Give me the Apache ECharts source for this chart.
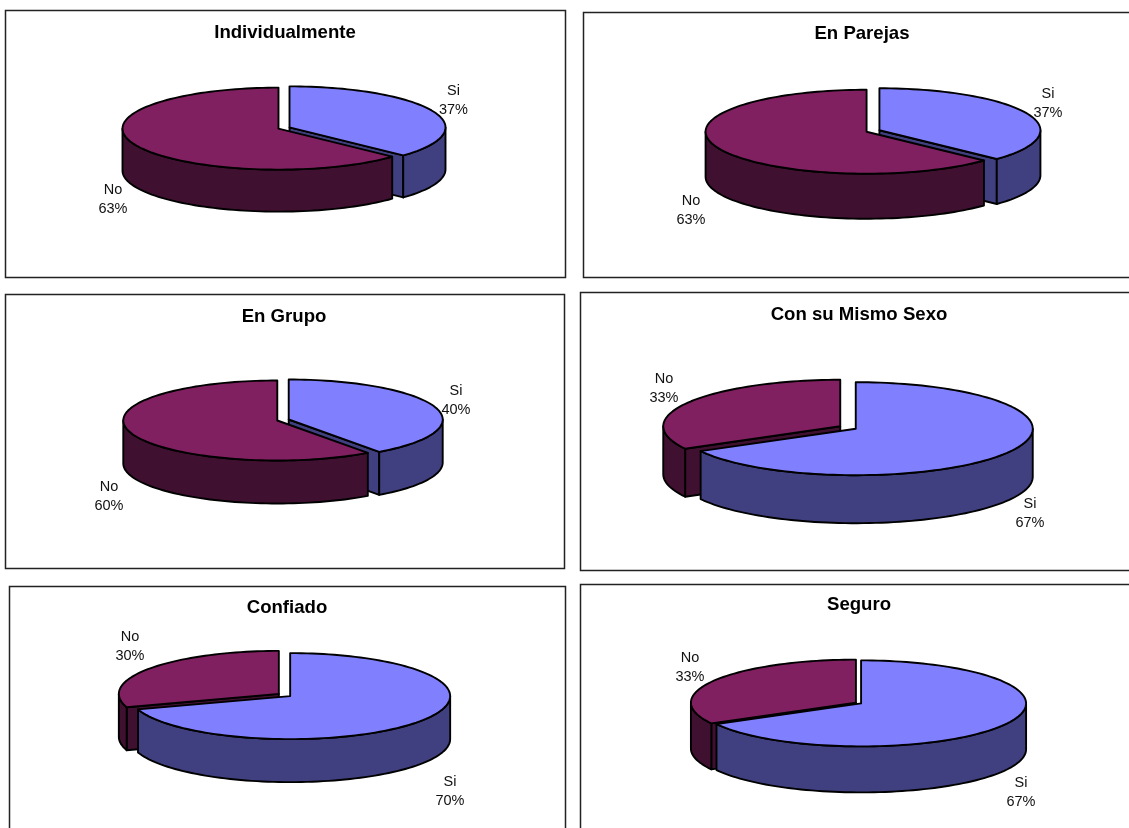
<!DOCTYPE html>
<html>
<head>
<meta charset="utf-8">
<style>html,body{margin:0;padding:0;background:#fff}#c{width:1129px;height:828px}</style>
<script src="https://cdn.jsdelivr.net/npm/echarts@6/dist/echarts.min.js"></script>
</head>
<body>
<div id="c"></div>
<script>
const categories = ['Si', 'No'];
const chartTitles = ['Individualmente', 'En Parejas', 'En Grupo', 'Con su Mismo Sexo', 'Confiado', 'Seguro'];
const siValues = [37, 37, 40, 67, 70, 67];
const noValues = [63, 63, 60, 33, 30, 33];

// panel layout only: frame, title anchor, pie ellipse, label anchors
const layouts = [
  {frame:[5,10,560,267],   title:[285,33],  c:[284,128],   rx:156, ry:41, d:42, e:6, si:[453.5,100],no:[113,199]},
  {frame:[583,12,600,265], title:[862,34],  c:[873,131],   rx:161, ry:42, d:45, e:7, si:[1048,103], no:[691,210]},
  {frame:[5,294,559,274],  title:[284,317], c:[283,420],   rx:154, ry:40, d:43, e:6, si:[456,400],  no:[109,496]},
  {frame:[580,292,600,278],title:[859,315], c:[848,427.5], rx:177, ry:46.5, d:48, e:9, si:[1030,513], no:[664,388.5]},
  {frame:[9,586,556,300],  title:[287,608], c:[284.5,695], rx:160, ry:43, d:43, e:7, si:[450,791],  no:[130,646]},
  {frame:[580,584,600,300],title:[859,605], c:[858.5,703], rx:165, ry:43, d:46, e:3, si:[1021,792], no:[690,667]}
];
const topColors = {Si:'#8080FF', No:'#802060'};
const wallColors = {Si:'#404080', No:'#401030'};
const edge = {stroke:'#000', lineWidth:1.9, lineJoin:'round'};

function makeRender(idx) {
  const L = layouts[idx];
  return function (params, api) {
    const name = categories[api.value(0)];
    const value = api.value(1);
    const siShare = siValues[idx] / (siValues[idx] + noValues[idx]) * 360;
    const s = name === 'Si' ? 0 : siShare;
    const t = name === 'Si' ? siShare : 360;
    const mid = (s + t) / 2 * Math.PI / 180;
    const ax = L.c[0] + L.e * Math.sin(mid);
    const ay = L.c[1] - L.e * Math.cos(mid) * L.ry / L.rx;
    const pt = (deg, drop) => [
      ax + L.rx * Math.sin(deg * Math.PI / 180),
      ay - L.ry * Math.cos(deg * Math.PI / 180) + (drop || 0)
    ];
    const arc = (a, b, drop) => {
      const out = [];
      const n = Math.max(2, Math.ceil(Math.abs(b - a) / 2));
      for (let i = 0; i <= n; i++) out.push(pt(a + (b - a) * i / n, drop));
      return out;
    };
    const poly = (points, fill) => ({
      type: 'polygon', shape: {points}, style: Object.assign({fill}, edge)
    });
    const children = [];
    // radial face that looks toward the viewer
    const faceAngle = (t > 0 && t < 180) ? t : ((s > 180 && s < 360) ? s : null);
    if (faceAngle !== null) {
      const p = pt(faceAngle);
      children.push(poly([[ax, ay], p, [p[0], p[1] + L.d], [ax, ay + L.d]], wallColors[name]));
    }
    // outer wall on the near half
    const w0 = Math.max(s, 90), w1 = Math.min(t, 270);
    if (w1 > w0) {
      children.push(poly(arc(w0, w1).concat(arc(w1, w0, L.d)), wallColors[name]));
    }
    // top face
    children.push(poly([[ax, ay]].concat(arc(s, t)), topColors[name]));
    // label
    const lp = name === 'Si' ? L.si : L.no;
    children.push({
      type: 'text', z2: 100,
      style: {
        x: lp[0], y: lp[1], text: name + '\n' + value + '%', fill: '#111',
        font: '14.5px "Liberation Sans", Arial, sans-serif',
        align: 'center', verticalAlign: 'middle', lineHeight: 19
      }
    });
    return {type: 'group', children};
  };
}

const series = chartTitles.map((_, i) => {
  const items = [[0, siValues[i]], [1, noValues[i]]].sort((a, b) => a[1] - b[1]);
  return {
    type: 'custom', coordinateSystem: 'none', silent: true, animation: false,
    renderItem: makeRender(i), data: items, z: 5
  };
});

const option = {
  backgroundColor: '#fff',
  animation: false,
  title: chartTitles.map((t, i) => ({
    text: t, left: layouts[i].title[0], top: layouts[i].title[1] - 11,
    textAlign: 'center', padding: 0,
    textStyle: {fontFamily: '"Liberation Sans", Arial, sans-serif', fontWeight: 'bold', fontSize: 18.6, color: '#000', lineHeight: 22}
  })),
  graphic: layouts.map(L => ({
    type: 'rect', silent: true, z: 0,
    shape: {x: L.frame[0] + .5, y: L.frame[1] + .5, width: L.frame[2], height: L.frame[3]},
    style: {fill: '#fff', stroke: '#222', lineWidth: 1.5}
  })),
  series
};
echarts.init(document.getElementById('c')).setOption(option);
</script>
</body>
</html>
